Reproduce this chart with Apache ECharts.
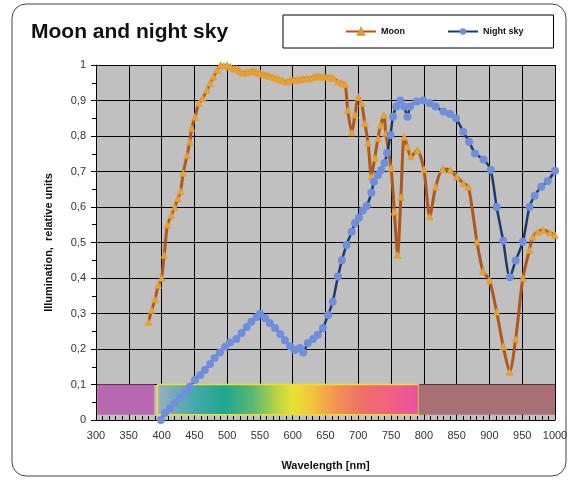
<!DOCTYPE html>
<html>
<head>
<meta charset="utf-8">
<script src="https://cdn.jsdelivr.net/npm/echarts@6/dist/echarts.min.js"></script>
<style>
  html, body { margin: 0; padding: 0; background: #ffffff; }
  #chart { width: 571px; height: 481px; }
</style>
</head>
<body>
<div id="chart"></div>
<script>
// Moon spectrum: [wavelength nm, relative illumination]
const moonData = [
  [380,0.276],[385,0.31],[390,0.34],[395,0.38],[400,0.40],[404,0.465],[409,0.55],[415,0.577],
  [420,0.60],[425,0.625],[429,0.645],[433,0.696],[439,0.746],[443,0.784],[446,0.822],[451,0.854],
  [457,0.893],[463,0.907],[469,0.93],[474,0.949],[479,0.967],[485,0.986],[490,1.0],[495,0.998],
  [500,1.0],[505,0.995],[510,0.99],[514,0.99],[519,0.983],[524,0.978],[530,0.98],[535,0.982],
  [540,0.984],[545,0.98],[550,0.977],[555,0.975],[560,0.972],[565,0.969],[570,0.966],[575,0.963],
  [580,0.96],[585,0.956],[591,0.953],[596,0.957],[601,0.96],[606,0.958],[611,0.96],[616,0.962],
  [621,0.963],[626,0.962],[631,0.966],[636,0.969],[641,0.968],[646,0.967],[651,0.966],[657,0.967],
  [662,0.963],[669,0.953],[675,0.95],[680,0.946],[684,0.873],[690,0.81],[695,0.86],[700,0.91],
  [705,0.892],[710,0.836],[715,0.78],[720,0.686],[725,0.738],[730,0.794],[734,0.83],[739,0.859],
  [742,0.808],[750,0.71],[755,0.587],[760,0.465],[765,0.629],[770,0.798],[775,0.77],[780,0.742],
  [790,0.76],[800,0.706],[809,0.573],[818,0.657],[829,0.707],[840,0.704],[850,0.685],[860,0.667],
  [868,0.657],[881,0.502],[890,0.42],[900,0.394],[911,0.305],[921,0.208],[931,0.136],[940,0.228],
  [951,0.40],[961,0.479],[966,0.516],[974,0.53],[982,0.535],[992,0.528],[1000,0.521]
];

// Night sky spectrum: [wavelength nm, relative illumination]
const nightSkyData = [
  [399,0.0],[405,0.02],[413,0.034],[420,0.048],[428,0.062],[436,0.077],[443,0.094],[451,0.113],
  [459,0.127],[466,0.141],[474,0.158],[481,0.175],[489,0.19],[497,0.206],[504,0.218],[514,0.228],
  [522,0.245],[530,0.262],[537,0.277],[545,0.29],[550,0.299],[558,0.287],[565,0.273],[573,0.259],
  [581,0.242],[588,0.225],[596,0.208],[603,0.197],[611,0.203],[616,0.19],[623,0.217],[631,0.228],
  [638,0.24],[646,0.259],[654,0.296],[661,0.333],[669,0.404],[675,0.45],[682,0.493],[690,0.53],
  [695,0.555],[701,0.57],[707,0.59],[713,0.603],[720,0.64],[724,0.671],[730,0.69],[735,0.704],
  [740,0.724],[744,0.752],[749,0.803],[753,0.854],[758,0.883],[764,0.90],[770,0.883],[775,0.854],
  [779,0.883],[789,0.897],[799,0.90],[809,0.892],[818,0.883],[830,0.869],[840,0.862],[849,0.85],
  [860,0.812],[869,0.784],[878,0.751],[891,0.734],[902,0.704],[911,0.60],[921,0.505],[931,0.402],
  [940,0.449],[951,0.502],[961,0.60],[969,0.632],[979,0.657],[989,0.673],[1000,0.702]
];

// Spectral bands along the bottom: [start nm, end nm]
const uvBand = [302, 389];
const visibleBand = [394, 792];
const irBand = [792, 1000];
const bandLevels = [0.015, 0.1];

const xTicks = { min: 300, max: 1000, step: 50 };
const yTicks = { min: 0, max: 1, step: 0.1 };

const spectrumGradient = new echarts.graphic.LinearGradient(0, 0, 1, 0, [
  { offset: 0.00, color: '#9ab0c0' },
  { offset: 0.14, color: '#48a8ac' },
  { offset: 0.26, color: '#1ca890' },
  { offset: 0.37, color: '#60b870' },
  { offset: 0.47, color: '#c4d840' },
  { offset: 0.52, color: '#e8e232' },
  { offset: 0.60, color: '#f2c040' },
  { offset: 0.68, color: '#f29452' },
  { offset: 0.78, color: '#f07068' },
  { offset: 0.90, color: '#f06084' },
  { offset: 1.00, color: '#e852a2' }
]);

const chart = echarts.init(document.getElementById('chart'), null, { renderer: 'canvas' });

const fontFamily = '"Liberation Sans", Arial, sans-serif';

chart.setOption({
  animation: false,
  backgroundColor: '#ffffff',
  textStyle: { fontFamily: fontFamily },
  title: {
    text: 'Moon and night sky',
    left: 26,
    top: 17,
    textStyle: { fontFamily: fontFamily, fontSize: 21, fontWeight: 'bold', color: '#111' }
  },
  legend: {
    left: 283,
    top: 15,
    padding: [12, 30, 12, 62],
    itemGap: 42,
    itemWidth: 30,
    itemHeight: 8,
    borderColor: '#000',
    borderWidth: 1,
    backgroundColor: '#fff',
    borderRadius: 0,
    textStyle: { fontFamily: fontFamily, fontSize: 9, fontWeight: 'bold', color: '#111' },
    data: ['Moon', 'Night sky']
  },
  graphic: [{
    type: 'rect',
    shape: { x: 12, y: 4, width: 554, height: 472, r: 14 },
    style: { fill: 'none', stroke: '#444', lineWidth: 1 },
    silent: true,
    z: -1
  }],
  grid: {
    left: 96, right: 16, top: 65, bottom: 61,
    show: true,
    backgroundColor: '#c0c0c0',
    borderWidth: 0
  },
  xAxis: {
    type: 'value',
    min: xTicks.min, max: xTicks.max, interval: xTicks.step,
    name: 'Wavelength [nm]',
    nameLocation: 'middle',
    nameGap: 40,
    nameTextStyle: { fontFamily: fontFamily, fontSize: 11, fontWeight: 'bold', color: '#111' },
    axisLine: { show: true, onZero: false, lineStyle: { color: '#000', width: 1 } },
    axisTick: { show: true, inside: true, length: 4, lineStyle: { color: '#000' } },
    minorTick: { show: true, splitNumber: 5, length: 4, lineStyle: { color: '#000' } },
    axisLabel: {
      fontFamily: fontFamily, fontSize: 11, color: '#333', margin: 10,
      formatter: v => String(v)
    },
    splitLine: { show: true, lineStyle: { color: '#000', width: 1 } }
  },
  yAxis: {
    type: 'value',
    min: yTicks.min, max: yTicks.max, interval: yTicks.step,
    name: 'Illumination,  relative units',
    nameLocation: 'middle',
    nameGap: 42,
    nameTextStyle: { fontFamily: fontFamily, fontSize: 11, fontWeight: 'bold', color: '#111' },
    axisLine: { show: true, lineStyle: { color: '#000', width: 1 } },
    axisTick: { show: true, inside: false, length: 5, lineStyle: { color: '#000' } },
    minorTick: { show: true, splitNumber: 2, length: 4, lineStyle: { color: '#000' } },
    axisLabel: {
      fontFamily: fontFamily, fontSize: 11, color: '#333', margin: 10,
      formatter: v => String(Math.round(v * 10) / 10).replace('.', ',')
    },
    splitLine: { show: true, lineStyle: { color: '#000', width: 1 } }
  },
  series: [
    {
      name: 'Moon',
      type: 'line',
      data: moonData,
      smooth: 0.25,
      symbol: 'triangle',
      symbolSize: 7,
      lineStyle: { color: '#b0571c', width: 3 },
      itemStyle: { color: '#e8a232', borderColor: '#d89a30', borderWidth: 0.5 },
      z: 3,
      markArea: {
        silent: true,
        z: 1,
        data: [
          [{ coord: [uvBand[0], bandLevels[0]], itemStyle: { color: '#b868b0' } },
           { coord: [uvBand[1], bandLevels[1]] }],
          [{ coord: [visibleBand[0], bandLevels[0]],
             itemStyle: { color: spectrumGradient, borderColor: '#f0e020', borderWidth: 1.5 } },
           { coord: [visibleBand[1], bandLevels[1]] }],
          [{ coord: [irBand[0], bandLevels[0]], itemStyle: { color: '#a87074' } },
           { coord: [irBand[1], bandLevels[1]] }]
        ]
      }
    },
    {
      name: 'Night sky',
      type: 'line',
      data: nightSkyData,
      smooth: 0.25,
      symbol: 'circle',
      symbolSize: 8,
      lineStyle: { color: '#1d3a66', width: 2.5 },
      itemStyle: { color: '#6f8fdc' },
      z: 4
    }
  ]
});
</script>
</body>
</html>
